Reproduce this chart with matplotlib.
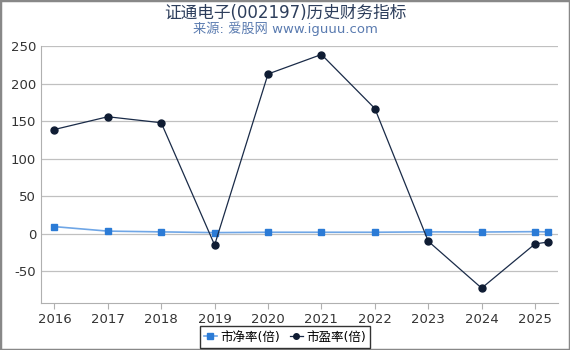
import matplotlib.pyplot as plt

plt.rcParams['font.family'] = ['DejaVu Sans', 'Noto Sans CJK SC']
plt.rcParams['axes.unicode_minus'] = False

years = [2016, 2017, 2018, 2019, 2020, 2021, 2022, 2023, 2024, 2025, 2025.25]
pb = [9.5, 3.5, 2.5, 1.5, 2.0, 2.0, 2.0, 2.5, 2.3, 2.8, 2.5]
pe = [139, 156, 148, -15, 213, 239, 167, -10, -72.5, -13.5, -11]
tick_years = [2016, 2017, 2018, 2019, 2020, 2021, 2022, 2023, 2024, 2025]

fig = plt.figure(figsize=(5.7, 3.5), dpi=100)
ax = fig.add_axes([0.072, 0.135, 0.907, 0.735])

ax.plot(years, pb, color='#6fa6e6', lw=1.2, marker='s', ms=5,
        mfc='#2b7bd6', mec='#2b7bd6', label='市净率(倍)', zorder=3)
ax.plot(years, pe, color='#1a2b48', lw=0.9, marker='o', ms=5,
        mfc='#0f1c33', mec='#0f1c33', label='市盈率(倍)', zorder=4)

ax.set_xlim(2015.75, 2025.43)
ax.set_ylim(-92, 251)
ax.set_xticks(tick_years)
ax.set_xticklabels([str(y) for y in tick_years])
ax.set_yticks([-50, 0, 50, 100, 150, 200, 250])
ax.grid(axis='y', color='#c0c0c0', lw=0.9)
ax.set_axisbelow(True)
for s in ['top', 'right']:
    ax.spines[s].set_visible(False)
for s in ['left', 'bottom']:
    ax.spines[s].set_color('#b0b0b0')
ax.tick_params(colors='#333333', labelsize=9.5, length=4)
ax.tick_params(axis='x', color='#b0b0b0')
ax.tick_params(axis='y', length=0)

fig.text(0.5, 0.962, '证通电子(002197)历史财务指标', ha='center', va='center',
         fontsize=12, color='#2d3e5c')
fig.text(0.5, 0.918, '来源: 爱股网 www.iguuu.com', ha='center', va='center',
         fontsize=9.5, color='#5a7bb0')

leg = fig.legend(loc='lower center', bbox_to_anchor=(0.5, -0.012), ncol=2,
                 fontsize=9, frameon=True, fancybox=False, handlelength=1.0,
                 handletextpad=0.3, columnspacing=0.8, borderpad=0.35,
                 markerscale=0.8)
leg.get_frame().set_edgecolor('black')
leg.get_frame().set_linewidth(1.0)

fig.patches.append(plt.Rectangle((0, 0), 1, 1, transform=fig.transFigure,
                                 fill=False, edgecolor='#888888', lw=2.5))

fig.savefig('out.png', dpi=100)
